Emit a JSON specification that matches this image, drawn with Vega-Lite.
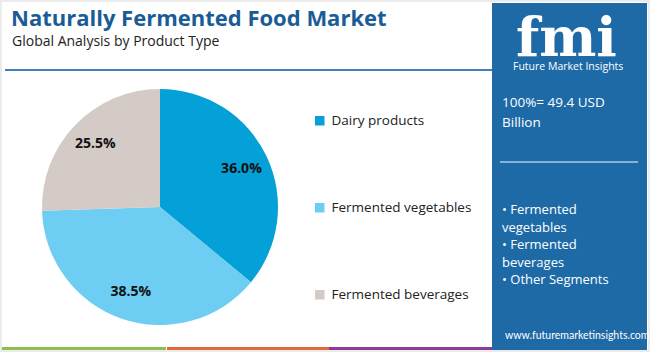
{
  "$schema": "https://vega.github.io/schema/vega-lite/v6.json",
  "width": 650,
  "height": 352,
  "autosize": {"type": "none"},
  "padding": 0,
  "background": "#ebebeb",
  "config": {"view": {"stroke": null}, "font": "Open Sans"},
  "datasets": {
    "shares": [
      {"segment": "Dairy products", "share": 36.0, "label": "36.0%", "ord": 1},
      {"segment": "Fermented vegetables", "share": 38.5, "label": "38.5%", "ord": 2},
      {"segment": "Fermented beverages", "share": 25.5, "label": "25.5%", "ord": 3}
    ],
    "one": [{"k": 1}]
  },
  "data": {"name": "one"},
  "layer": [
    {
      "mark": {"type": "rect", "fill": "#ffffff"},
      "encoding": {
        "x": {"datum": 2, "type": "quantitative", "scale": {"domain": [0, 650], "nice": false, "zero": false}, "axis": null},
        "x2": {"datum": 648},
        "y": {"datum": 2, "type": "quantitative", "scale": {"domain": [0, 352], "reverse": true, "nice": false, "zero": false}, "axis": null},
        "y2": {"datum": 350}
      }
    },
    {
      "mark": {"type": "rect", "fill": "#1d6aa7"},
      "encoding": {
        "x": {"datum": 492, "type": "quantitative"},
        "x2": {"datum": 647},
        "y": {"datum": 3, "type": "quantitative"},
        "y2": {"datum": 350}
      }
    },
    {
      "mark": {"type": "rect", "fill": "#8dc04c"},
      "encoding": {
        "x": {"datum": 2, "type": "quantitative"},
        "x2": {"datum": 166},
        "y": {"datum": 347, "type": "quantitative"},
        "y2": {"datum": 350}
      }
    },
    {
      "mark": {"type": "rect", "fill": "#e0693a"},
      "encoding": {
        "x": {"datum": 167, "type": "quantitative"},
        "x2": {"datum": 329},
        "y": {"datum": 347, "type": "quantitative"},
        "y2": {"datum": 350}
      }
    },
    {
      "mark": {"type": "rect", "fill": "#8e3b95"},
      "encoding": {
        "x": {"datum": 329, "type": "quantitative"},
        "x2": {"datum": 492},
        "y": {"datum": 347, "type": "quantitative"},
        "y2": {"datum": 350}
      }
    },
    {
      "mark": {"type": "rule", "stroke": "#3f80c0", "strokeWidth": 2},
      "encoding": {
        "x": {"datum": 5, "type": "quantitative"},
        "x2": {"datum": 492},
        "y": {"datum": 70, "type": "quantitative"}
      }
    },
    {
      "mark": {"type": "text", "align": "left", "baseline": "alphabetic", "font": "Open Sans", "fontWeight": "bold", "fontSize": 22, "fill": "#1a5c96"},
      "encoding": {
        "x": {"datum": 11, "type": "quantitative"},
        "y": {"datum": 26, "type": "quantitative"},
        "text": {"value": "Naturally Fermented Food Market"}
      }
    },
    {
      "mark": {"type": "text", "align": "left", "baseline": "alphabetic", "font": "Open Sans", "fontSize": 14, "fill": "#222222"},
      "encoding": {
        "x": {"datum": 12, "type": "quantitative"},
        "y": {"datum": 46, "type": "quantitative"},
        "text": {"value": "Global Analysis by Product Type"}
      }
    },
    {
      "data": {"name": "shares"},
      "mark": {"type": "arc", "outerRadius": 118},
      "encoding": {
        "x": {"datum": 160, "type": "quantitative"},
        "y": {"datum": 207, "type": "quantitative"},
        "theta": {"field": "share", "type": "quantitative", "stack": true},
        "order": {"field": "ord", "type": "quantitative"},
        "color": {
          "field": "segment",
          "type": "nominal",
          "sort": ["Dairy products", "Fermented vegetables", "Fermented beverages"],
          "scale": {"domain": ["Dairy products", "Fermented vegetables", "Fermented beverages"], "range": ["#04a0d8", "#6dcdf2", "#d5cbc6"]},
          "legend": {
            "title": null,
            "orient": "none",
            "legendX": 313,
            "legendY": 114,
            "symbolType": "square",
            "symbolSize": 90,
            "symbolStrokeWidth": 0,
            "labelFont": "Open Sans",
            "labelFontSize": 13.5,
            "labelColor": "#222222",
            "labelOffset": 5,
            "rowPadding": 72,
            "direction": "vertical"
          }
        }
      }
    },
    {
      "data": {"name": "shares"},
      "mark": {"type": "text", "radius": 90, "font": "Open Sans", "fontWeight": "bold", "fontSize": 14, "fill": "#111111"},
      "encoding": {
        "x": {"datum": 160, "type": "quantitative"},
        "y": {"datum": 207, "type": "quantitative"},
        "theta": {"field": "share", "type": "quantitative", "stack": true},
        "order": {"field": "ord", "type": "quantitative"},
        "text": {"field": "label"}
      }
    },
    {
      "mark": {"type": "text", "align": "left", "baseline": "alphabetic", "font": "DejaVu Serif", "fontWeight": "bold", "fontSize": 54, "fill": "#ffffff"},
      "encoding": {
        "x": {"datum": 516, "type": "quantitative"},
        "y": {"datum": 56, "type": "quantitative"},
        "text": {"value": "fmi"}
      }
    },
    {
      "mark": {"type": "text", "align": "left", "baseline": "alphabetic", "font": "Open Sans", "fontSize": 10.5, "fill": "#ffffff"},
      "encoding": {
        "x": {"datum": 513, "type": "quantitative"},
        "y": {"datum": 70, "type": "quantitative"},
        "text": {"value": "Future Market Insights"}
      }
    },
    {
      "mark": {"type": "text", "align": "left", "baseline": "alphabetic", "font": "Open Sans", "fontSize": 13.5, "lineHeight": 20, "fill": "#ffffff"},
      "encoding": {
        "x": {"datum": 502, "type": "quantitative"},
        "y": {"datum": 107, "type": "quantitative"},
        "text": {"value": ["100%= 49.4 USD", "Billion"]}
      }
    },
    {
      "mark": {"type": "rule", "stroke": "#a9cbe9", "strokeWidth": 1.5},
      "encoding": {
        "x": {"datum": 500, "type": "quantitative"},
        "x2": {"datum": 638},
        "y": {"datum": 162, "type": "quantitative"}
      }
    },
    {
      "mark": {"type": "text", "align": "left", "baseline": "alphabetic", "font": "Open Sans", "fontSize": 13, "lineHeight": 17.5, "fill": "#ffffff"},
      "encoding": {
        "x": {"datum": 502, "type": "quantitative"},
        "y": {"datum": 214, "type": "quantitative"},
        "text": {"value": ["• Fermented", "vegetables", "• Fermented", "beverages", "• Other Segments"]}
      }
    },
    {
      "mark": {"type": "text", "align": "left", "baseline": "alphabetic", "font": "Lato", "fontSize": 10.5, "fill": "#ffffff"},
      "encoding": {
        "x": {"datum": 505, "type": "quantitative"},
        "y": {"datum": 339, "type": "quantitative"},
        "text": {"value": "www.futuremarketinsights.com"}
      }
    }
  ]
}
